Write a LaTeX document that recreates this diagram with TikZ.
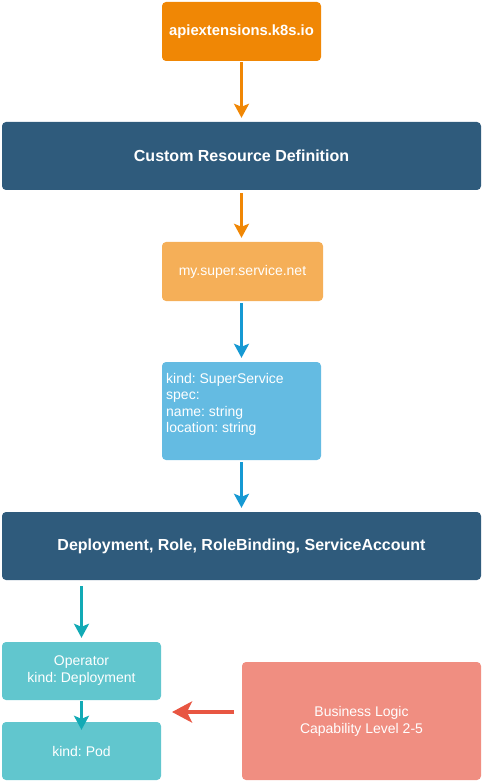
\documentclass[tikz,border=0pt]{standalone}
\usepackage{fontspec}
\setmainfont{Liberation Sans}
\frenchspacing
\usetikzlibrary{arrows.meta}
\definecolor{apiorange}{HTML}{F08705}
\definecolor{crdblue}{HTML}{2F5B7C}
\definecolor{lightorange}{HTML}{F5AF58}
\definecolor{specblue}{HTML}{64BBE2}
\definecolor{arrowblue}{HTML}{1699D3}
\definecolor{opteal}{HTML}{61C6CE}
\definecolor{arrowteal}{HTML}{12AAB5}
\definecolor{bizred}{HTML}{F08E81}
\definecolor{arrowred}{HTML}{E85642}
\tikzset{
  box/.style={rounded corners=4pt, text=white, inner sep=0pt, align=center,
    font=\fontsize{14}{17}\selectfont},
  bar/.style={box, minimum width=479pt, minimum height=68pt, fill=crdblue,
    font=\bfseries\fontsize{16}{18}\selectfont},
  link/.style={line width=2.7pt, -{Stealth[length=14pt,width=15pt,inset=3pt]}},
  biglink/.style={line width=4.5pt, -{Stealth[length=20pt,width=21pt,inset=5pt]}}
}
\begin{document}
\begin{tikzpicture}[x=1pt,y=-1pt]
  \useasboundingbox (0,0) rectangle (483,783);
  % top of the chain
  \node[box, fill=apiorange, minimum width=159pt, minimum height=59pt,
    font=\bfseries\fontsize{14.8}{18}\selectfont] (api) at (241.5,31.5) {apiextensions.k8s.io};
  \node[bar] (crd) at (241.5,156) {Custom Resource Definition};
  \node[box, fill=lightorange, minimum width=161pt, minimum height=59pt] (mysuper) at (242.5,271.5) {my.super.service.net};
  \node[box, fill=specblue, minimum width=159pt, minimum height=98pt] (kind) at (241.5,411) {};
  \node[anchor=north west, text=white, align=left, inner sep=0pt,
    font=\fontsize{14}{16.5}\selectfont] (kindtxt) at (166,373)
    {kind: SuperService\\spec:\\name: string\\location: string};
  \node[bar] (dep) at (241.5,546) {Deployment, Role, RoleBinding, ServiceAccount};
  % operator and pod
  \node[box, fill=opteal, minimum width=159pt, minimum height=58pt] (op) at (81.5,671) {Operator\\kind: Deployment};
  \node[box, fill=opteal, minimum width=159pt, minimum height=58pt] (pod) at (81.5,751) {kind: Pod};
  \node[box, fill=bizred, minimum width=239pt, minimum height=118pt] (biz) at (361.5,721) {Business Logic\\Capability Level 2-5};
  \coordinate (bizout) at (234,712);
  \coordinate (bizin) at (172,712);
  % connectors
  \draw[link, apiorange, shorten <=1pt, shorten >=4pt] (api) -- (crd);
  \draw[link, apiorange, shorten <=3pt, shorten >=4pt] (crd.south) -- (crd.south |- mysuper.north);
  \draw[link, arrowblue, shorten <=2pt, shorten >=4pt] (kind.north |- mysuper.south) -- (kind.north);
  \draw[link, arrowblue, shorten <=2pt, shorten >=4pt] (kind.south) -- (dep.north -| kind.south);
  \draw[link, arrowteal, shorten <=6pt, shorten >=4pt] (op.north |- dep.south) -- (op.north);
  \draw[link, arrowteal, shorten <=1pt, shorten >=-8pt] (op) -- (pod);
  \draw[biglink, arrowred] (bizout) -- (bizin);
\end{tikzpicture}
\end{document}
